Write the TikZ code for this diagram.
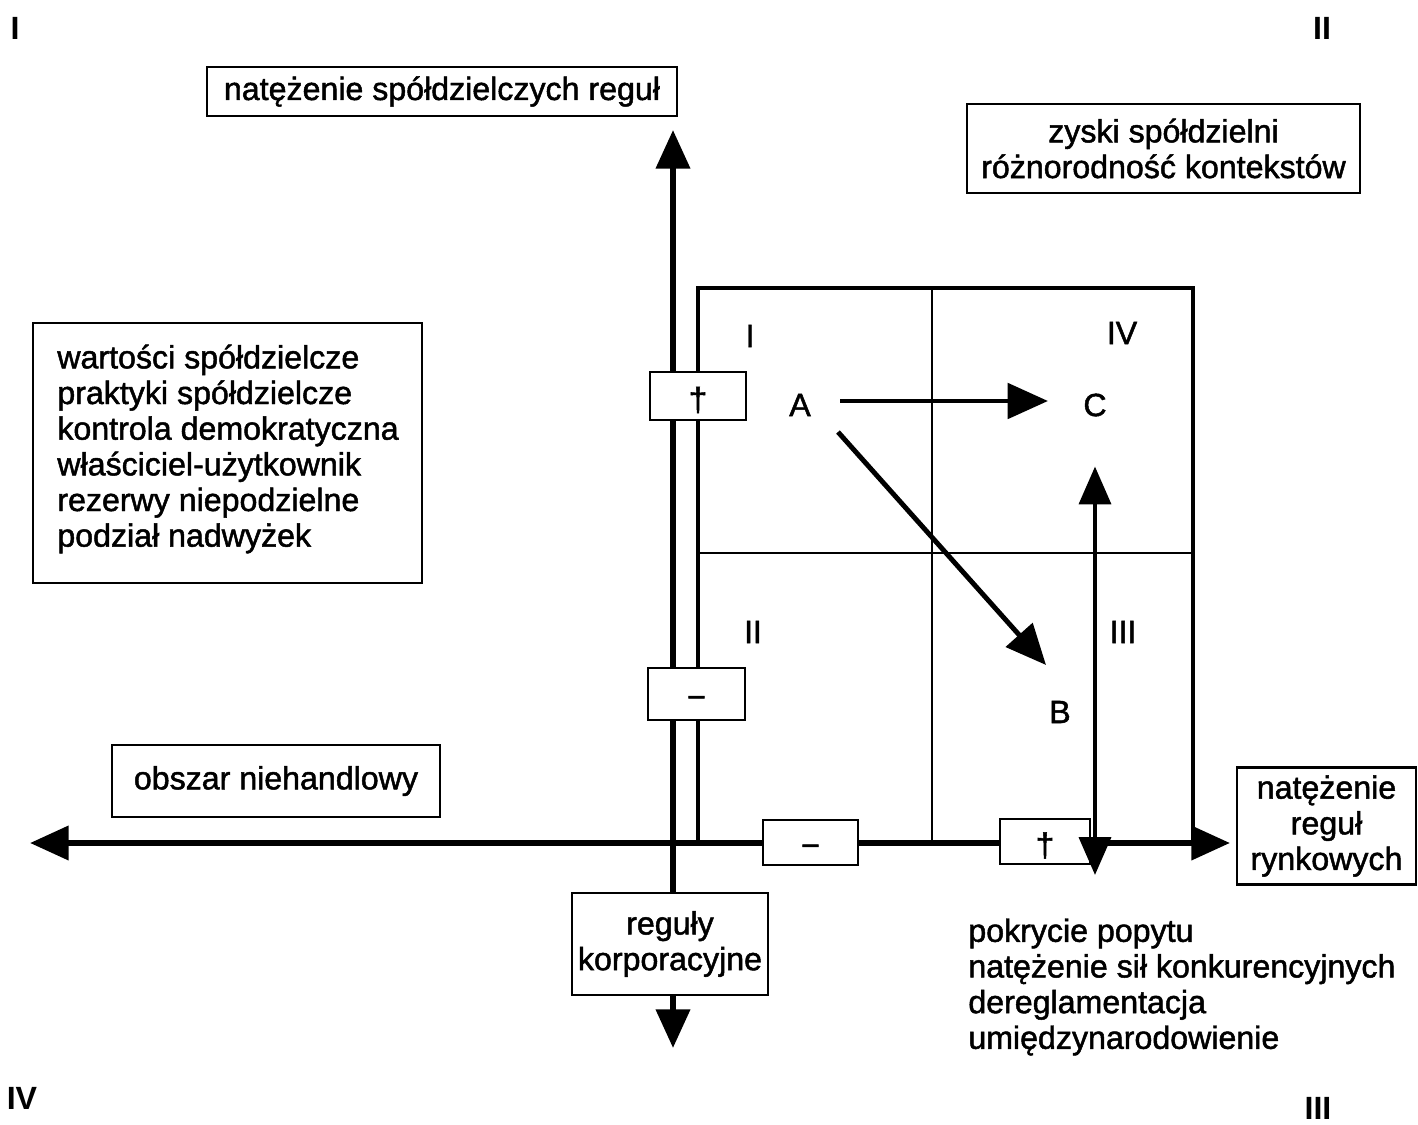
\documentclass[tikz,border=0pt]{standalone}
\usepackage{fontspec}
\setmainfont{Liberation Sans}[UprightFeatures={FakeBold=1.5}]
\usetikzlibrary{arrows.meta}
\begin{document}
\begin{tikzpicture}[x=0.02cm,y=-0.02cm,
  font=\fontsize{18.3}{20.3}\selectfont,
  box/.style={draw,line width=1.3pt,fill=white,inner sep=0pt,align=center},
  sign/.style={draw,line width=1.3pt,fill=white,inner sep=0pt},
  txt/.style={inner sep=0pt},
  corner/.style={inner sep=0pt,font=\fontsize{18.3}{20.3}\selectfont\bfseries},
  axisline/.style={line width=3.4pt},
  framel/.style={line width=2.8pt,line join=miter},
  divl/.style={line width=1.1pt},
  arr/.style={line width=2.8pt,-{Triangle[length=23pt,width=20pt]}},
  darr/.style={line width=2.6pt,{Triangle[length=21.5pt,width=18pt]}-{Triangle[length=21.5pt,width=18pt]}}
]
\useasboundingbox (0,0) rectangle (1418,1125);
\newcommand{\crossmark}{\smash{\raisebox{-0.3cm}{\fontsize{19}{19}\selectfont †}}}
\newcommand{\minusmark}{\smash{\raisebox{-0.28cm}{−}}}

% axes
\coordinate (vtop) at (673,130);
\coordinate (vbot) at (673,1048);
\coordinate (hleft) at (30,843);
\coordinate (hright) at (1230,843);
\draw[axisline,{Triangle[length=22pt,width=19pt]}-{Triangle[length=22pt,width=19pt]}] (vbot) -- (vtop);
\draw[axisline,{Triangle[length=22pt,width=19pt]}-{Triangle[length=22pt,width=19pt]}] (hleft) -- (hright);

% frame
\coordinate (rBL) at (698,843);
\coordinate (rTL) at (698,288);
\coordinate (rTR) at (1193,288);
\coordinate (rBR) at (1193,843);
\draw[framel] (rBL) -- (rTL) -- (rTR) -- (rBR);
\coordinate (dT) at (932,288);
\coordinate (dB) at (932,843);
\coordinate (dL) at (698,553);
\coordinate (dR) at (1193,553);
\draw[divl] (dT) -- (dB);
\draw[divl] (dL) -- (dR);

% sign boxes
\node[sign,minimum width=1.92cm,minimum height=0.96cm] (plusV) at (698,396) {\crossmark};
\node[sign,minimum width=1.94cm,minimum height=1.04cm] (minusV) at (696.5,694) {\minusmark};
\node[sign,minimum width=1.9cm,minimum height=0.9cm] (minusH) at (810.5,842.5) {\minusmark};
\node[sign,minimum width=1.8cm,minimum height=0.9cm] (plusH) at (1045,841.5) {\crossmark};

% label boxes
\node[box,minimum width=9.4cm,minimum height=0.98cm] (coopRules) at (442,91.5) {\raisebox{-0.05cm}{natężenie spółdzielczych reguł}};
\node[box,minimum width=7.86cm,minimum height=1.78cm] (gains) at (1163.5,148.5) {zyski spółdzielni\\różnorodność kontekstów};
\node[box,minimum width=7.78cm,minimum height=5.2cm] (values) at (227.5,453) {};
\node[txt,anchor=west,align=left] (valuesText) at (57,449) {wartości spółdzielcze\\praktyki spółdzielcze\\kontrola demokratyczna\\właściciel-użytkownik\\rezerwy niepodzielne\\podział nadwyżek};
\node[box,minimum width=6.56cm,minimum height=1.44cm] (nonmarket) at (276,781) {obszar niehandlowy};
\node[box,minimum width=3.58cm,minimum height=2.34cm] (market) at (1326.5,826) {natężenie\\reguł\\rynkowych};
\node[box,minimum width=3.92cm,minimum height=2.04cm] (corp) at (670,944) {reguły\\korporacyjne};
\node[txt,anchor=west,align=left] (marketText) at (968,987) {pokrycie popytu\\natężenie sił konkurencyjnych\\dereglamentacja\\umiędzynarodowienie};

% inner labels
\node[txt] (qI) at (750,336) {I};
\node[txt] (qIV) at (1122,333) {IV};
\node[txt] (qII) at (753,632) {II};
\node[txt] (qIII) at (1123,632) {III};
\node[txt] (A) at (800,405) {A};
\node[txt] (C) at (1095,405) {C};
\node[txt] (B) at (1060,712) {B};

% corner labels
\node[corner] (cI) at (15,28) {I};
\node[corner] (cII) at (1322,28) {II};
\node[corner] (cIV) at (22,1098) {IV};
\node[corner] (cIII) at (1318,1108) {III};

% arrows
\draw[arr] ([shift={(40,-4)}]A.center) -- ([shift={(-47,-4)}]C.center);
\draw[arr] ([shift={(38,27)}]A.center) -- ([shift={(-14,-47)}]B.center);
\coordinate (cbot) at (1095,875);
\draw[darr] ([yshift=-35]C.center) -- (cbot);
\end{tikzpicture}
\end{document}
